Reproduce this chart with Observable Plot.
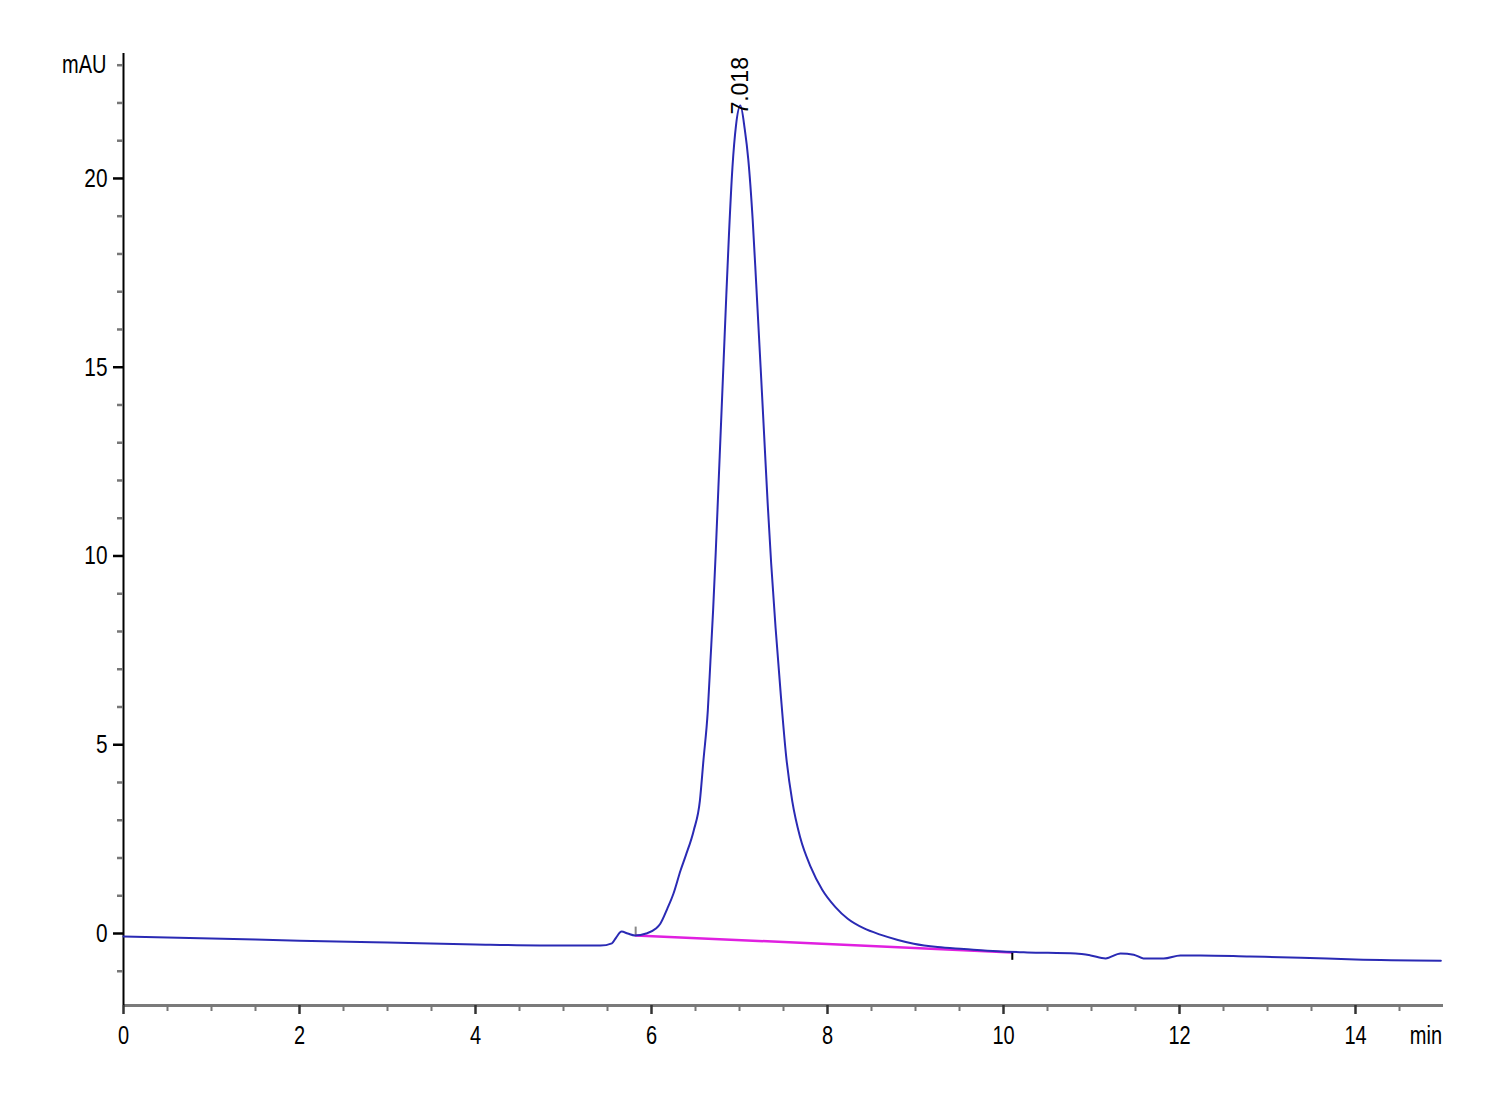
<!DOCTYPE html>
<html>
<head>
<meta charset="utf-8">
<script src="https://cdn.jsdelivr.net/npm/d3@7"></script>
<script src="https://cdn.jsdelivr.net/npm/@observablehq/plot@0.6"></script>
<style>
  html, body { margin: 0; padding: 0; background: #fff; }
  #chart { width: 1500px; height: 1100px; }
</style>
</head>
<body>
<div id="chart"></div>
<script>
// Chromatogram trace (retention time in min, signal in mAU)
const timeMin = [0, 1, 2, 3, 4, 5, 5.42, 5.55, 5.6, 5.66, 5.73, 5.81, 5.94, 6.05, 6.1, 6.18, 6.25, 6.33, 6.39, 6.48, 6.55, 6.59, 6.64, 6.67, 6.70, 6.73, 6.76, 6.79, 6.82, 6.85, 6.88, 6.92, 6.96, 7.01, 7.06, 7.10, 7.15, 7.19, 7.24, 7.28, 7.32, 7.36, 7.41, 7.47, 7.53, 7.60, 7.69, 7.81, 7.94, 8.09, 8.23, 8.41, 8.60, 8.80, 8.98, 9.25, 9.55, 9.93, 10.27, 10.82, 10.99, 11.16, 11.33, 11.48, 11.59, 11.82, 12.01, 12.24, 12.8, 13.38, 14.0, 14.97];
const signalMAU = [-0.08, -0.13, -0.19, -0.24, -0.29, -0.32, -0.32, -0.26, -0.10, 0.05, 0.0, -0.05, 0.0, 0.13, 0.26, 0.66, 1.06, 1.67, 2.07, 2.73, 3.52, 4.58, 5.91, 7.23, 8.56, 10.1, 11.8, 13.5, 15.2, 16.9, 18.5, 20.3, 21.4, 21.93, 21.3, 20.5, 18.9, 17.2, 15.0, 13.2, 11.4, 9.8, 8.1, 6.3, 4.7, 3.5, 2.54, 1.76, 1.16, 0.70, 0.39, 0.14, -0.03, -0.17, -0.27, -0.36, -0.41, -0.47, -0.50, -0.53, -0.58, -0.66, -0.53, -0.56, -0.66, -0.66, -0.58, -0.58, -0.61, -0.64, -0.69, -0.72];

// Peak annotation
const peakLabels = ["7.018"];
const peakTimes = [7.018];
const peakHeights = [21.93];

// Integration baseline
const baselineTimes = [5.82, 10.1];
const baselineValues = [-0.05, -0.50];

// Integration event markers
const eventTimes = [5.82, 10.1];
const eventLow = [-0.05, -0.71];
const eventHigh = [0.17, -0.50];
const eventColors = ["#888888", "#000000"];

// Axes
const xMajorTicks = [0, 2, 4, 6, 8, 10, 12, 14];
const xMinorTicks = d3.range(0.5, 15, 0.5).filter(v => v % 2 !== 0);
const yMajorTicks = [0, 5, 10, 15, 20];
const yMinorTicks = d3.range(-1, 24, 1).filter(v => v % 5 !== 0);
const xUnit = "min", xUnitAt = 14.8;
const yUnit = "mAU", yUnitAt = 23;
const xDomain = [0, 15];
const yDomain = [-1.907, 23.31];

const trace = timeMin.map((t, i) => ({t, v: signalMAU[i]}));
const baseline = baselineTimes.map((t, i) => ({t, v: baselineValues[i]}));
const events = eventTimes.map((t, i) => ({t, lo: eventLow[i], hi: eventHigh[i], c: eventColors[i]}));
const peaks = peakLabels.map((s, i) => ({s, t: peakTimes[i], v: peakHeights[i]}));

const font = "'Liberation Sans Narrow', 'Liberation Sans', Arial, sans-serif";

const chart = Plot.plot({
  width: 1500,
  height: 1100,
  marginLeft: 123,
  marginRight: 57,
  marginTop: 53,
  marginBottom: 95,
  style: {fontFamily: font, fontSize: "24px", background: "#fff", color: "#000"},
  x: {domain: xDomain, axis: null},
  y: {domain: yDomain, axis: null},
  marks: [
    // axis lines
    Plot.ruleY([yDomain[0]], {x1: xDomain[0], x2: xDomain[1], stroke: "#7a7a7a", strokeWidth: 3}),
    Plot.ruleX([xDomain[0]], {y1: yDomain[0], y2: yDomain[1], stroke: "#000", strokeWidth: 2}),
    // y axis ticks
    Plot.axisY({ticks: yMinorTicks, tickSize: 6, tickFormat: () => "", stroke: "#777", strokeWidth: 2.5, label: null}),
    Plot.axisY({ticks: yMajorTicks, tickSize: 10, tickPadding: 6, tickFormat: d => String(d), stroke: "#000", strokeWidth: 2.5, fontSize: 26, label: null}),
    Plot.axisY({ticks: [yUnitAt], tickSize: 0, tickPadding: 17, tickFormat: () => yUnit, fontSize: 25, label: null}),
    // x axis ticks
    Plot.axisX({ticks: xMinorTicks, tickSize: 6, tickFormat: () => "", stroke: "#777", strokeWidth: 2, anchor: "bottom", label: null}),
    Plot.axisX({ticks: xMajorTicks, tickSize: 9, tickPadding: 12, tickFormat: d => String(d), stroke: "#333", strokeWidth: 2.5, fontSize: 25, anchor: "bottom", label: null}),
    Plot.axisX({ticks: [xUnitAt], tickSize: 0, tickPadding: 21, tickFormat: () => xUnit, fontSize: 25, anchor: "bottom", label: null}),
    // integration baseline
    Plot.line(baseline, {x: "t", y: "v", stroke: "#e020e0", strokeWidth: 2.5}),
    // event markers
    Plot.ruleX(events, {x: "t", y1: "lo", y2: "hi", stroke: "c", strokeWidth: 2}),
    // chromatogram trace
    Plot.line(trace, {x: "t", y: "v", stroke: "#2a2ab4", strokeWidth: 2, curve: "monotone-x"}),
    // peak label
    Plot.text(peaks, {x: "t", y: "v", text: "s", rotate: -90, textAnchor: "start", lineAnchor: "middle", dy: 9, fontSize: 23, fontFamily: "'Liberation Sans', Arial, sans-serif", fill: "#000"})
  ]
});

// condense the axis lettering (narrow typeface look): append a horizontal scale
chart.querySelectorAll("text").forEach(t => {
  const tr = t.getAttribute("transform") || "";
  if (tr.includes("rotate")) return;
  t.setAttribute("transform", `${tr} scale(0.8,1)`.trim());
});

document.getElementById("chart").appendChild(chart);
</script>
</body>
</html>
